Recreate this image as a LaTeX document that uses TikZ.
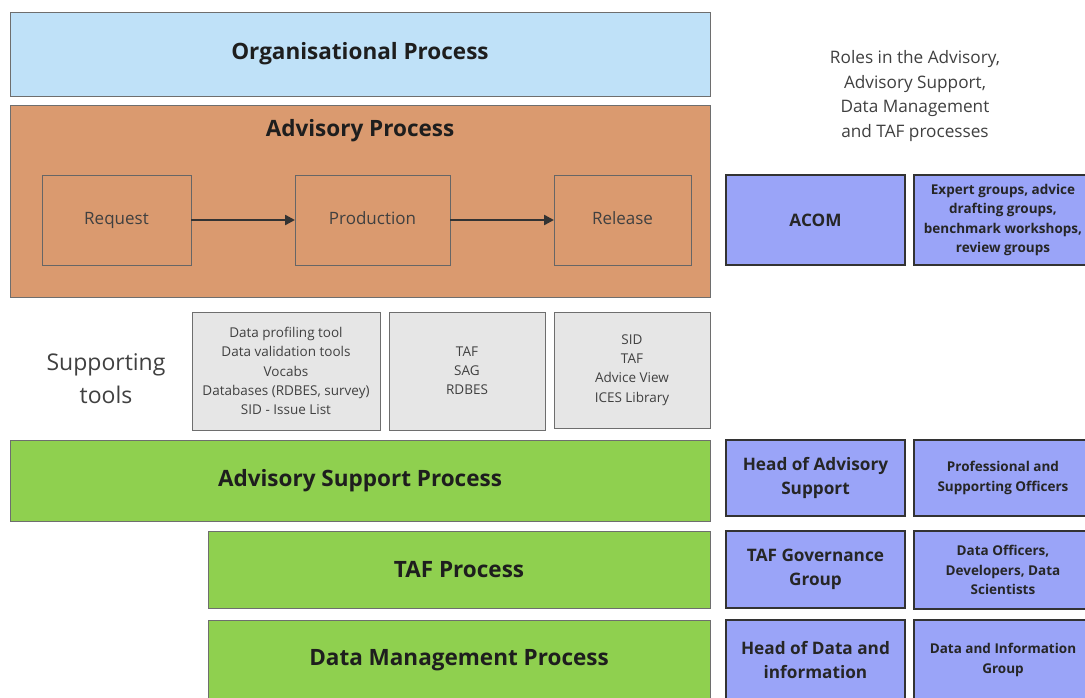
\documentclass[tikz,border=0pt]{standalone}
\usepackage{fontspec}
\setmainfont{Open Sans}
\usetikzlibrary{arrows.meta}

\definecolor{orgblue}{RGB}{191,225,248}
\definecolor{advorange}{RGB}{218,154,111}
\definecolor{toolgray}{RGB}{230,230,230}
\definecolor{procgreen}{RGB}{143,208,79}
\definecolor{rolepurple}{RGB}{154,164,248}
\definecolor{edgegray}{RGB}{110,110,110}
\definecolor{textdark}{RGB}{30,30,30}

\tikzset{
  bigbox/.style={draw=edgegray, line width=1pt, inner sep=0pt, outer sep=0pt,
    text=textdark, font=\fontsize{22.5}{26}\selectfont\bfseries},
  titletext/.style={inner sep=0pt, text=textdark, font=\fontsize{22.5}{26}\selectfont\bfseries},
  stepbox/.style={draw=black!60, line width=1pt, inner sep=0pt, outer sep=0pt,
    minimum height=90pt, text height=12pt, text depth=4pt,
    text=black!75, font=\fontsize{17}{20}\selectfont},
  toolbox/.style={draw=edgegray, fill=toolgray, line width=1pt, inner sep=0pt,
    align=center, text=black!75, font=\fontsize{13.5}{19.2}\selectfont},
  headbox/.style={draw=black!80, fill=rolepurple, line width=1.6pt, inner sep=0pt,
    minimum width=179pt, align=center, text=black!85,
    font=\fontsize{17.2}{24}\selectfont\bfseries},
  groupbox/.style={draw=black!80, fill=rolepurple, line width=1.6pt, inner sep=0pt,
    minimum width=178pt, align=center, text=black!85,
    font=\fontsize{13.5}{19.5}\selectfont\bfseries},
  flow/.style={draw=black!80, line width=2.4pt, -{Triangle[length=10pt,width=10pt]}}
}

\begin{document}
\begin{tikzpicture}[x=1pt, y=-1pt]
  \clip (0,0) rectangle (1085,697);
  \fill[white] (0,0) rectangle (1085,697);

  % processes
  \node[bigbox, fill=orgblue, minimum width=700pt, minimum height=84pt] (org) at (360,54) {Organisational Process};
  \node[bigbox, fill=advorange, minimum width=700pt, minimum height=192pt] (adv) at (360,201) {};
  \node[titletext] (advtitle) at (360,131) {Advisory Process};

  \node[stepbox, minimum width=149pt] (request) at (116.5,220) {Request};
  \node[stepbox, minimum width=155pt] (production) at (372.5,220) {Production};
  \node[stepbox, minimum width=137pt] (release) at (622.5,220) {Release};
  \draw[flow] (request) -- (production);
  \draw[flow] (production) -- (release);

  % tools
  \node[align=center, text=black!75, font=\fontsize{23}{33}\selectfont] (tools) at (106,379) {Supporting\\tools};
  \node[toolbox, minimum width=188pt, minimum height=118pt] (tools1) at (286,371) {Data profiling tool\\Data validation tools\\Vocabs\\Databases (RDBES, survey)\\SID - Issue List};
  \node[toolbox, minimum width=156pt, minimum height=118pt] (tools2) at (467,371) {TAF\\SAG\\RDBES};
  \node[toolbox, minimum width=156pt, minimum height=116pt] (tools3) at (632,370) {SID\\TAF\\Advice View\\ICES Library};

  \node[bigbox, fill=procgreen, minimum width=700pt, minimum height=81pt] (support) at (360,480.5) {Advisory Support Process};
  \node[bigbox, fill=procgreen, minimum width=502pt, minimum height=77pt] (taf) at (459,569.5) {TAF Process};
  \node[bigbox, fill=procgreen, minimum width=502pt, minimum height=80pt] (dm) at (459,660) {Data Management Process};

  % roles
  \node[align=center, text=black!75, font=\fontsize{17.2}{24.5}\selectfont] (roles) at (915,96) {Roles in the Advisory,\\Advisory Support,\\Data Management\\and TAF processes};

  \node[headbox, minimum height=90pt] (acom) at (815.5,220) {ACOM};
  \node[groupbox, minimum height=90pt] (experts) at (1003,220) {Expert groups, advice\\drafting groups,\\benchmark workshops,\\review groups};

  \node[headbox, minimum height=76pt] (headadv) at (815.5,478) {Head of Advisory\\Support};
  \node[groupbox, minimum height=76pt] (officers) at (1003,478) {Professional and\\Supporting Officers};

  \node[headbox, minimum height=77pt] (tafgov) at (815.5,569.5) {TAF Governance\\Group};
  \node[groupbox, minimum height=78pt] (devs) at (1003,570) {Data Officers,\\Developers, Data\\Scientists};

  \node[headbox, minimum height=80pt] (headdata) at (815.5,660) {Head of Data and\\information};
  \node[groupbox, minimum height=80pt] (dig) at (1003,660) {Data and Information\\Group};
\end{tikzpicture}
\end{document}
